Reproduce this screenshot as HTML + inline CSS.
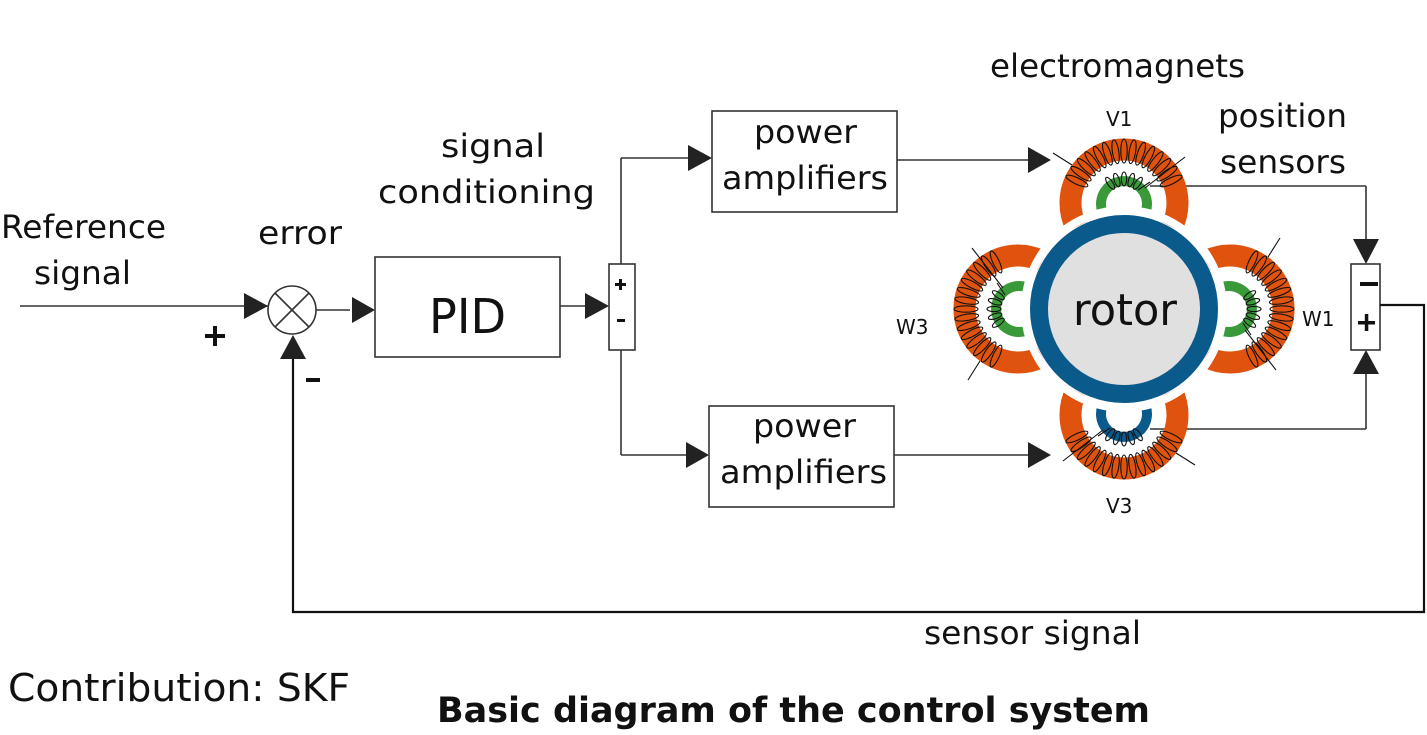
<!DOCTYPE html>
<html><head><meta charset="utf-8"><style>
html,body{margin:0;padding:0;background:#fff;}
svg{display:block;}
text{font-family:"DejaVu Sans","Liberation Sans",sans-serif;fill:#111;}
</style></head><body>
<svg id="s" width="1427" height="735" viewBox="0 0 1427 735" xmlns="http://www.w3.org/2000/svg">
<g fill="none" stroke="#333" stroke-width="1.6">
<line x1="20" y1="306" x2="268" y2="306"/>
<polygon points="244,293 268,306 244,319" fill="#222" stroke="none"/>
<circle cx="292" cy="310" r="24" fill="#fff"/>
<line x1="275" y1="293" x2="309" y2="327"/><line x1="309" y1="293" x2="275" y2="327"/>
<line x1="316" y1="310" x2="350" y2="310"/>
<polygon points="352,297 375,310 352,323" fill="#222" stroke="none"/>
<rect x="375" y="257" width="185" height="100" fill="#fff"/>
<line x1="560" y1="306" x2="586" y2="306"/>
<polygon points="585,293 609,306 585,319" fill="#222" stroke="none"/>
<rect x="609" y="264" width="26" height="86" fill="#fff"/>
<line x1="621" y1="264" x2="621" y2="158"/>
<line x1="621" y1="350" x2="621" y2="455"/>
<line x1="621" y1="158" x2="688" y2="158"/>
<polygon points="688,145 712,158 688,171" fill="#222" stroke="none"/>
<line x1="621" y1="455" x2="686" y2="455"/>
<polygon points="686,442 709,455 686,468" fill="#222" stroke="none"/>
<rect x="712" y="111" width="185" height="101" fill="#fff"/>
<rect x="709" y="406" width="185" height="101" fill="#fff"/>
<line x1="897" y1="160" x2="1028" y2="160"/>
<polygon points="1028,147 1051,160 1028,173" fill="#222" stroke="none"/>
<line x1="894" y1="455" x2="1028" y2="455"/>
<polygon points="1028,442 1051,455 1028,468" fill="#222" stroke="none"/>
<line x1="1150" y1="186" x2="1366" y2="186"/>
<line x1="1366" y1="186" x2="1366" y2="240"/>
<polygon points="1353,239 1379,239 1366,264" fill="#222" stroke="none"/>
<line x1="1150" y1="429" x2="1366" y2="429"/>
<line x1="1366" y1="429" x2="1366" y2="374"/>
<polygon points="1353,374 1379,374 1366,350" fill="#222" stroke="none"/>
<rect x="1351" y="264" width="29" height="86" fill="#fff"/>
<path d="M1380,305 L1424,305 L1424,612 L293,612 L293,358" stroke-width="2.2" stroke="#111"/>
<polygon points="280,359 306,359 293,335" fill="#222" stroke="none"/>
</g>
<g id="mags"></g>
<circle cx="1124" cy="309" r="99" fill="none" stroke="#fff" stroke-width="8"/>
<circle cx="1124" cy="309" r="85" fill="#e0e0e0" stroke="#0a5a8c" stroke-width="18"/>
<g font-size="32">
<text x="990" y="77" textLength="255" lengthAdjust="spacingAndGlyphs">electromagnets</text>
<text x="1218" y="127" textLength="129" lengthAdjust="spacingAndGlyphs">position</text>
<text x="1220" y="173" textLength="126" lengthAdjust="spacingAndGlyphs">sensors</text>
<text x="441" y="157" textLength="104" lengthAdjust="spacingAndGlyphs">signal</text>
<text x="378" y="203" textLength="217" lengthAdjust="spacingAndGlyphs">conditioning</text>
<text x="1" y="238" textLength="165" lengthAdjust="spacingAndGlyphs">Reference</text>
<text x="34" y="284" textLength="97" lengthAdjust="spacingAndGlyphs">signal</text>
<text x="258" y="244" textLength="84" lengthAdjust="spacingAndGlyphs">error</text>
<text x="754" y="143" textLength="103" lengthAdjust="spacingAndGlyphs">power</text>
<text x="722" y="189" textLength="166" lengthAdjust="spacingAndGlyphs">amplifiers</text>
<text x="753" y="437" textLength="103" lengthAdjust="spacingAndGlyphs">power</text>
<text x="720" y="483" textLength="167" lengthAdjust="spacingAndGlyphs">amplifiers</text>
<text x="924" y="644" textLength="217" lengthAdjust="spacingAndGlyphs">sensor signal</text>
<text x="8" y="701" font-size="38" textLength="342" lengthAdjust="spacingAndGlyphs">Contribution: SKF</text>
</g>
<text x="429" y="333" font-size="48" textLength="77" lengthAdjust="spacingAndGlyphs">PID</text>
<text x="1073" y="325" font-size="44" textLength="104" lengthAdjust="spacingAndGlyphs">rotor</text>
<g font-size="20">
<text x="1106" y="126">V1</text>
<text x="1106" y="513">V3</text>
<text x="896" y="334">W3</text>
<text x="1302" y="326">W1</text>
</g>
<g fill="#111">
<rect x="205" y="334" width="20" height="4"/><rect x="213" y="326" width="4" height="20"/>
<rect x="306" y="378" width="14" height="4"/>
<rect x="1360" y="282" width="18" height="4"/>
<rect x="1358" y="321" width="17" height="3.5"/><rect x="1364.8" y="314" width="3.5" height="17"/>
<rect x="615" y="283" width="11" height="3"/><rect x="619" y="279" width="3" height="11"/>
<rect x="617" y="319" width="8" height="3"/>
</g>
<text x="437" y="722" font-size="35" font-weight="bold" textLength="713" lengthAdjust="spacingAndGlyphs">Basic diagram of the control system</text>
</svg>
<script>
var M=document.getElementById('mags'),ns='http://www.w3.org/2000/svg';
function el(p,t,a){var e=document.createElementNS(ns,t);for(var k in a)e.setAttribute(k,a[k]);p.appendChild(e);return e;}
function coil(g,cx,cy,r,a0,a1,n,ry,rx){for(var i=0;i<n;i++){var a=a0+(a1-a0)*i/(n-1),ar=a*Math.PI/180,x=cx+r*Math.cos(ar),y=cy+r*Math.sin(ar);el(g,'ellipse',{cx:x.toFixed(1),cy:y.toFixed(1),rx:ry,ry:rx,fill:'none',stroke:'#111','stroke-width':1.1,transform:'rotate('+a.toFixed(1)+' '+x.toFixed(1)+' '+y.toFixed(1)+')'});}}
[[0,'#3a9a3a'],[90,'#3a9a3a'],[180,'#0a5a8c'],[270,'#3a9a3a']].forEach(function(m){
 var g=el(M,'g',{transform:'rotate('+m[0]+' 1124 309)'});
 el(g,'path',{d:'M1171.8,227 A53.5,53.5 0 1 0 1076.2,227',fill:'none',stroke:'#e0530f','stroke-width':22});
 el(g,'path',{d:'M1145.6,212 A23,23 0 1 0 1102.4,212',fill:'none',stroke:m[1],'stroke-width':10});
 coil(g,1124,203,52,205,335,15,12,3.2);
 coil(g,1124,203,24,235,305,5,7,2.6);
 el(g,'line',{x1:1145,y1:188,x2:1185,y2:157,stroke:'#111','stroke-width':1.1});
 el(g,'line',{x1:1072,y1:165,x2:1053,y2:153,stroke:'#111','stroke-width':1.1});
 el(g,'line',{x1:1138,y1:190,x2:1150,y2:182,stroke:'#111','stroke-width':1.1});
});
</script>
</body></html>
